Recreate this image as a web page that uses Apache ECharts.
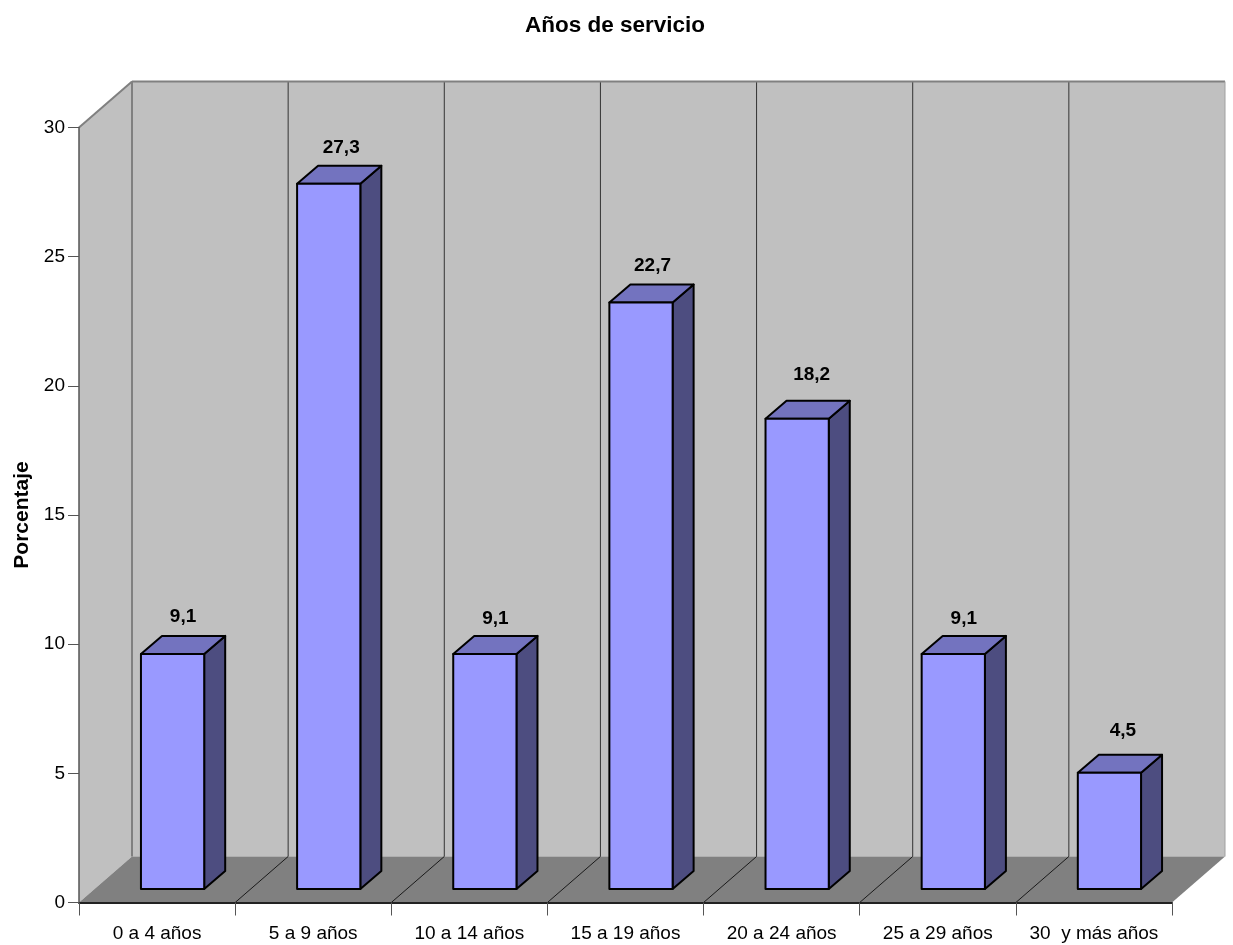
<!DOCTYPE html>
<html>
<head>
<meta charset="utf-8">
<style>html,body{margin:0;padding:0;background:#fff}#c{width:1233px;height:945px}</style>
<script src="https://cdn.jsdelivr.net/npm/echarts@6/dist/echarts.min.js"></script>
</head>
<body>
<div id="c"></div>
<script>
const categories = ['0 a 4 años','5 a 9 años','10 a 14 años','15 a 19 años','20 a 24 años','25 a 29 años','30  y más años'];
const values = [9.1, 27.3, 9.1, 22.7, 18.2, 9.1, 4.5];
const chartTitle = 'Años de servicio';
const yTitle = 'Porcentaje';

// 3D projection look, in pixels
const DEPTH_X = 53, DEPTH_Y = 46;
const BASE_X = 15.5, BASE_Y = 13.5;
const BAR_DX = 21, BAR_DY = 18;
const BAR_RATIO = 0.405;
const FONT = '"Liberation Sans", Arial, sans-serif';
// small per-label placement differences seen in the picture, in pixels
const LABEL_NUDGE_X = [0, 2, 0, 1, 4, 0, 3];
const LABEL_NUDGE_Y = [1, 2, 3, 1, -6, 3, -4];

function renderRoom(params, api) {
  const r = params.coordSys;
  const x0 = r.x, x1 = r.x + r.width, y0 = r.y, y1 = r.y + r.height;
  const kids = [];
  const poly = (pts, fill) => kids.push({
    type: 'polygon', shape: {points: pts}, style: {fill: fill}
  });
  const line = (a, b, c, lw) => kids.push({
    type: 'line', shape: {x1: a[0], y1: a[1], x2: b[0], y2: b[1]},
    style: {stroke: c, lineWidth: lw}
  });
  poly([[x0 + DEPTH_X, y0 - DEPTH_Y], [x1 + DEPTH_X, y0 - DEPTH_Y], [x1 + DEPTH_X, y1 - DEPTH_Y], [x0 + DEPTH_X, y1 - DEPTH_Y]], '#c0c0c0');
  poly([[x0, y0], [x0 + DEPTH_X, y0 - DEPTH_Y], [x0 + DEPTH_X, y1 - DEPTH_Y], [x0, y1]], '#c0c0c0');
  poly([[x0, y1], [x0 + DEPTH_X, y1 - DEPTH_Y], [x1 + DEPTH_X, y1 - DEPTH_Y], [x1, y1]], '#808080');
  const w = r.width / categories.length;
  for (let i = 1; i < categories.length; i++) {
    const x = x0 + w * i;
    line([x + DEPTH_X, y0 - DEPTH_Y], [x + DEPTH_X, y1 - DEPTH_Y], '#333333', 1);
    line([x, y1], [x + DEPTH_X, y1 - DEPTH_Y], '#1a1a1a', 1);
  }
  line([x0, y0], [x0 + DEPTH_X, y0 - DEPTH_Y], '#808080', 2);
  line([x0 + DEPTH_X, y0 - DEPTH_Y], [x1 + DEPTH_X, y0 - DEPTH_Y], '#808080', 2);
  line([x0 + DEPTH_X, y0 - DEPTH_Y], [x0 + DEPTH_X, y1 - DEPTH_Y], '#808080', 2);
  line([x1 + DEPTH_X, y0 - DEPTH_Y], [x1 + DEPTH_X, y1 - DEPTH_Y], '#a0a0a0', 1);
  return {type: 'group', children: kids};
}

function renderBar(params, api) {
  const i = api.value(0), v = api.value(1);
  const top = api.coord([i, v]), base = api.coord([i, 0]);
  const w = api.size([1, 0])[0] * BAR_RATIO;
  const l = top[0] - w / 2 + BASE_X, r = l + w;
  const t = top[1] - BASE_Y, b = base[1] - BASE_Y;
  const st = (fill) => ({fill: fill, stroke: '#000', lineWidth: 2, lineJoin: 'round'});
  return {type: 'group', children: [
    {type: 'polygon', shape: {points: [[r, t], [r + BAR_DX, t - BAR_DY], [r + BAR_DX, b - BAR_DY], [r, b]]}, style: st('#4d4d80')},
    {type: 'polygon', shape: {points: [[l, t], [l + BAR_DX, t - BAR_DY], [r + BAR_DX, t - BAR_DY], [r, t]]}, style: st('#7373bf')},
    {type: 'polygon', shape: {points: [[l, t], [r, t], [r, b], [l, b]]}, style: st('#9999ff')},
    {type: 'text', style: {
      x: (l + r + BAR_DX) / 2 + LABEL_NUDGE_X[i], y: t - BAR_DY - 20 + LABEL_NUDGE_Y[i],
      text: String(v).replace('.', ','),
      font: 'bold 19px ' + FONT, fill: '#000',
      align: 'center', verticalAlign: 'middle'
    }}
  ]};
}

const chart = echarts.init(document.getElementById('c'), null, {renderer: 'canvas'});
chart.setOption({
  animation: false,
  backgroundColor: '#ffffff',
  title: {
    text: chartTitle, left: 610, top: 9, textAlign: 'center',
    textStyle: {fontFamily: FONT, fontSize: 22.5, fontWeight: 'bold', color: '#000'}
  },
  grid: {left: 79, right: 61, top: 127.5, bottom: 42.5, containLabel: false, outerBoundsMode: 'none'},
  xAxis: {
    type: 'category', data: categories, z: 10,
    axisLine: {show: true, lineStyle: {color: '#222', width: 2}},
    axisTick: {show: true, length: 13, lineStyle: {color: '#555', width: 1}},
    axisLabel: {fontFamily: FONT, fontSize: 19, color: '#000', margin: 22, interval: 0},
    splitLine: {show: false}
  },
  yAxis: {
    type: 'value', min: 0, max: 30, interval: 5, z: 10,
    name: yTitle, nameLocation: 'middle', nameGap: 46, nameRotate: 90,
    nameTextStyle: {fontFamily: FONT, fontSize: 21, fontWeight: 'bold', color: '#000'},
    axisLine: {show: true, lineStyle: {color: '#555', width: 1.5}},
    axisTick: {show: true, length: 11, lineStyle: {color: '#555', width: 1}},
    axisLabel: {fontFamily: FONT, fontSize: 19, color: '#000', margin: 14, verticalAlign: 'middle', lineHeight: 19, padding: [2, 0, 0, 0]},
    splitLine: {show: false}
  },
  series: [
    {type: 'custom', coordinateSystem: 'cartesian2d', clip: false, z: 1, silent: true,
     renderItem: renderRoom, data: [[0, 0]], encode: {x: 0, y: 1}},
    {type: 'custom', coordinateSystem: 'cartesian2d', clip: false, z: 2, silent: true,
     renderItem: renderBar, data: values.map((v, i) => [i, v]), encode: {x: 0, y: 1}}
  ]
});
</script>
</body>
</html>
